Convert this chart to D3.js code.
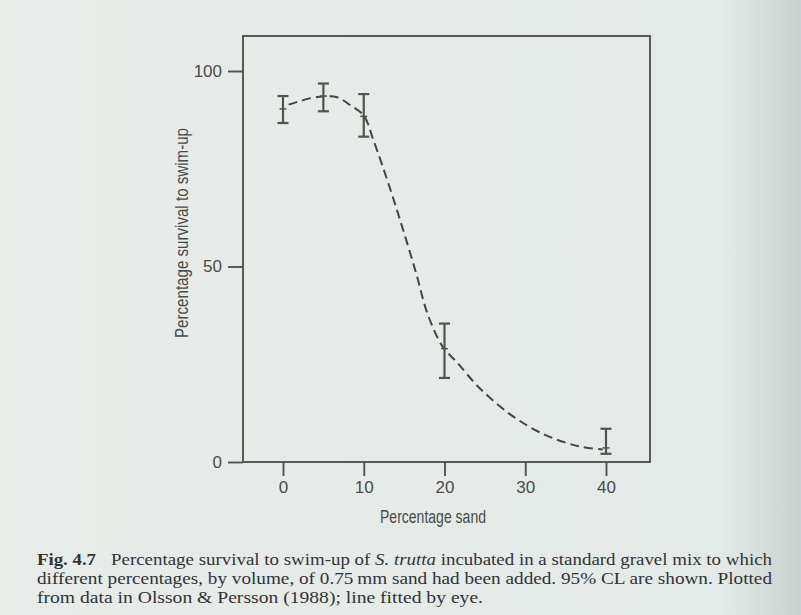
<!DOCTYPE html>
<html>
<head>
<meta charset="utf-8">
<script src="https://cdn.jsdelivr.net/npm/d3@7"></script>
<style>
  html, body { margin: 0; padding: 0; background: #e6ece9; }
  svg { display: block; }
</style>
</head>
<body>
<svg id="chart" width="801" height="615"></svg>
<script>
// ---- data ----
const sandPct = [0, 5, 10, 20, 40];
const survivalMean = [90.3, 93.6, 88.4, 29.0, 3.6];
const survivalLow = [86.7, 89.7, 83.2, 21.5, 2.1];
const survivalHigh = [93.6, 96.8, 94.1, 35.4, 8.5];
// line fitted by eye
const curveX = [0.7, 3.3, 5, 6.7, 8.3, 10, 11.2, 13.2, 14.9, 16.5, 17.9, 19.8, 21.5, 24.3, 28.4, 32.6, 36.7, 39.6];
const curveY = [91.4, 93.0, 93.5, 93.3, 91.3, 88.6, 82.3, 70.3, 59.2, 48.2, 37.9, 29.4, 25.6, 19.0, 11.8, 6.8, 4.0, 3.2];
const xTicks = [0, 10, 20, 30, 40];
const yTicks = [0, 50, 100];
const xTitle = "Percentage sand";
const yTitle = "Percentage survival to swim-up";

const svg = d3.select("#chart");
const ink = "#52544c";
const sansFont = "'Liberation Sans Narrow', 'Liberation Sans', Arial, sans-serif";

// background with slight shading towards the binding on the right
const defs = svg.append("defs");
const grad = defs.append("linearGradient").attr("id", "bg").attr("x1", "0").attr("x2", "1").attr("y1", "0").attr("y2", "0");
grad.append("stop").attr("offset", "0").attr("stop-color", "#e7ece9");
grad.append("stop").attr("offset", "0.9").attr("stop-color", "#e4eae7");
grad.append("stop").attr("offset", "1").attr("stop-color", "#c9d2d0");
svg.append("rect").attr("width", 801).attr("height", 615).attr("fill", "url(#bg)");

const x = d3.scaleLinear().domain([0, 40]).range([283, 606]);
const y = d3.scaleLinear().domain([0, 100]).range([462, 71]);

const frame = { left: 243, right: 650, top: 36 };

// frame
svg.append("rect")
  .attr("x", frame.left).attr("y", frame.top)
  .attr("width", frame.right - frame.left).attr("height", y(0) - frame.top)
  .attr("fill", "none").attr("stroke", ink).attr("stroke-width", 1.9);

// y axis
const yAxis = d3.axisLeft(y).tickValues(yTicks).tickSize(15).tickPadding(6).tickFormat(d3.format("d"));
const gy = svg.append("g").attr("transform", `translate(${frame.left},0)`).call(yAxis);
gy.select(".domain").remove();
gy.selectAll(".tick line").attr("stroke", ink).attr("stroke-width", 1.9);
gy.selectAll(".tick text").attr("fill", "#4a4b46").style("font-family", sansFont).style("font-size", "17px");

// x axis
const xAxis = d3.axisBottom(x).tickValues(xTicks).tickSize(14).tickPadding(5).tickFormat(d3.format("d"));
const gx = svg.append("g").attr("transform", `translate(0,${y(0)})`).call(xAxis);
gx.select(".domain").remove();
gx.selectAll(".tick line").attr("stroke", ink).attr("stroke-width", 1.9);
gx.selectAll(".tick text").attr("fill", "#4a4b46").style("font-family", sansFont).style("font-size", "17px");

// axis titles
svg.append("text")
  .attr("x", 433).attr("y", 523)
  .attr("text-anchor", "middle")
  .attr("fill", "#4a4b46")
  .style("font-family", sansFont).style("font-size", "18px")
  .attr("textLength", 106).attr("lengthAdjust", "spacingAndGlyphs")
  .text(xTitle);

svg.append("text")
  .attr("transform", "translate(188,233) rotate(-90)")
  .attr("text-anchor", "middle")
  .attr("fill", "#4a4b46")
  .style("font-family", sansFont).style("font-size", "18px")
  .attr("textLength", 210).attr("lengthAdjust", "spacingAndGlyphs")
  .text(yTitle);

// fitted dashed line
const curvePts = curveX.map((v, i) => [v, curveY[i]]);
const line = d3.line().x(d => x(d[0])).y(d => y(d[1])).curve(d3.curveCatmullRom.alpha(0.5));
svg.append("path")
  .attr("d", line(curvePts))
  .attr("fill", "none")
  .attr("stroke", "#45463f")
  .attr("stroke-width", 2)
  .attr("stroke-dasharray", "9,5");

// error bars
const capHalf = 5.5;
const eb = svg.append("g").attr("stroke", ink).attr("stroke-width", 2.2).attr("fill", "none");
sandPct.forEach((s, i) => {
  const cx = x(s);
  eb.append("line").attr("x1", cx).attr("x2", cx).attr("y1", y(survivalHigh[i])).attr("y2", y(survivalLow[i]));
  eb.append("line").attr("x1", cx - capHalf).attr("x2", cx + capHalf).attr("y1", y(survivalHigh[i])).attr("y2", y(survivalHigh[i]));
  eb.append("line").attr("x1", cx - capHalf).attr("x2", cx + capHalf).attr("y1", y(survivalLow[i])).attr("y2", y(survivalLow[i]));
  eb.append("line").attr("x1", cx - 3.5).attr("x2", cx + 3.5).attr("y1", y(survivalMean[i])).attr("y2", y(survivalMean[i])).attr("stroke-width", 1.5);
});

// caption
const serif = "'Liberation Serif', 'Times New Roman', serif";
const capColor = "#323337";
const cap = svg.append("g").attr("fill", capColor).style("font-family", serif).style("font-size", "17.5px");
cap.append("text").attr("x", 37).attr("y", 565).style("font-weight", "bold")
  .attr("textLength", 59).attr("lengthAdjust", "spacingAndGlyphs").text("Fig. 4.7");
const l1 = cap.append("text").attr("x", 111).attr("y", 565)
  .attr("textLength", 661).attr("lengthAdjust", "spacingAndGlyphs");
l1.append("tspan").text("Percentage survival to swim-up of ");
l1.append("tspan").style("font-style", "italic").text("S. trutta");
l1.append("tspan").text(" incubated in a standard gravel mix to which");
cap.append("text").attr("x", 37).attr("y", 584)
  .attr("textLength", 735).attr("lengthAdjust", "spacingAndGlyphs")
  .text("different percentages, by volume, of 0.75\u2009mm sand had been added. 95% CL are shown. Plotted");
cap.append("text").attr("x", 37).attr("y", 603)
  .attr("textLength", 446).attr("lengthAdjust", "spacingAndGlyphs")
  .text("from data in Olsson & Persson (1988); line fitted by eye.");
</script>
</body>
</html>
